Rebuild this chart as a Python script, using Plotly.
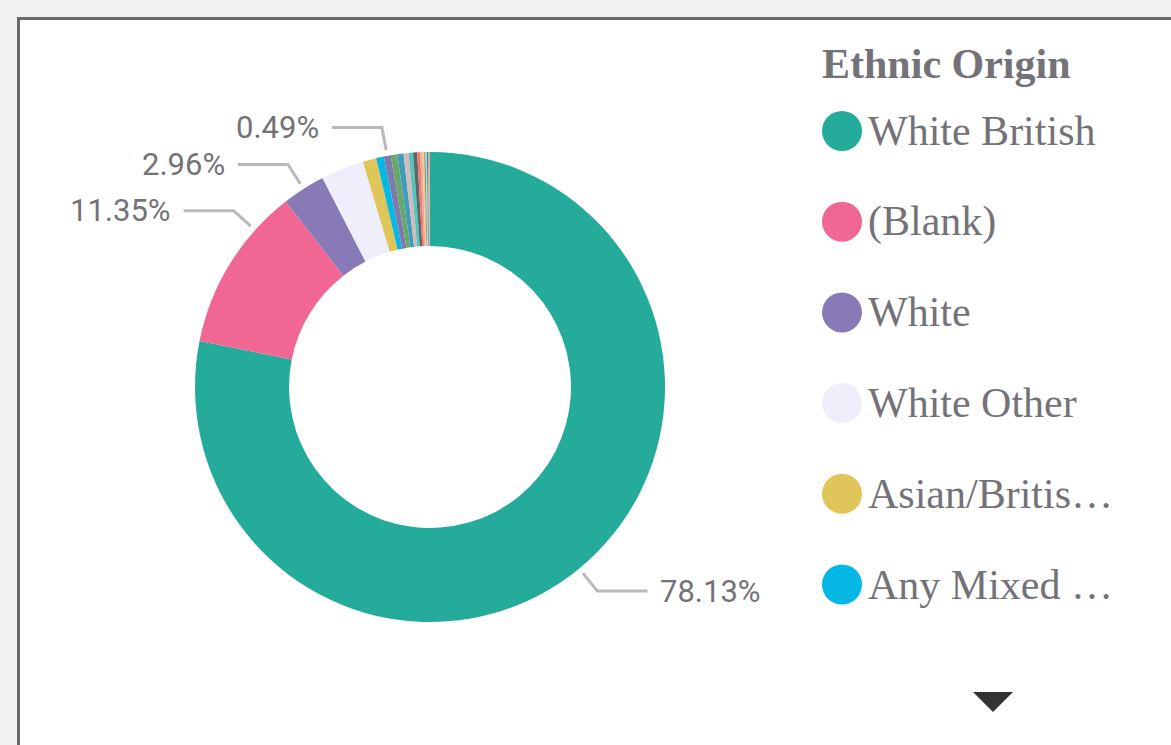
import math
import plotly.graph_objects as go

# ---------------- data ----------------
categories = [
    "White British", "(Blank)", "White", "White Other", "Asian/British Asian",
    "Any Mixed Background", "Any Other Ethnic Group", "Black/Black British",
    "Other Asian Background", "White Irish", "Chinese", "Indian", "Pakistani",
    "Bangladeshi", "Arab", "Gypsy/Traveller", "Caribbean", "African",
    "White and Black Caribbean", "Prefer Not to Say",
]
shares = [78.13, 11.35, 2.96, 2.95, 0.93, 0.52, 0.49, 0.45, 0.42, 0.35,
          0.30, 0.28, 0.20, 0.15, 0.12, 0.10, 0.09, 0.08, 0.07, 0.06]
colors = ["#24AB99", "#F06794", "#8879B7", "#EFEEFB", "#E0C558", "#03B8E5",
          "#7E7BAA", "#6AA76C", "#3C9DBD", "#D8B9BB", "#4DC8BA", "#5C6569",
          "#F3786B", "#F6A3A0", "#F2D25C", "#8795A8", "#A8DCEC", "#2E8C84",
          "#C9A2C0", "#F5A25D"]
labeled = [0, 1, 2, 6]                 # slices that carry a data label
label_anchor = [0.5, 0.75, 0.5, 0.5]   # where along the slice the leader starts
legend_title = "Ethnic Origin"
legend_visible = 6

# ---------------- layout constants ----------------
W, H = 1171, 745
CX, CY, R = 430, 387, 235
HOLE = 0.6
TEXT_GRAY = "#737278"


def px(x):
    return x / W


def py(y):
    return 1 - y / H


# Times widths (em) for legend truncation
TW = {" ": .25, "(": .333, ")": .333, "/": .278, "A": .722, "B": .667,
      "M": .889, "O": .722, "W": .944, "a": .444, "c": .444, "d": .5,
      "e": .444, "g": .5, "h": .5, "i": .278, "k": .5, "l": .278, "n": .5,
      "o": .5, "r": .333, "s": .389, "t": .278, "u": .5, "x": .5, "y": .5,
      "\u2026": 1.0}


def tw(s):
    return sum(TW.get(c, .5) for c in s)


def truncate(s, budget=5.9):
    if tw(s) <= budget:
        return s
    for n in range(len(s), 0, -1):
        if tw(s[:n]) + TW["\u2026"] <= budget:
            return s[:n] + "\u2026"
    return "\u2026"


fig = go.Figure()
fig.add_trace(go.Pie(
    labels=categories, values=shares, sort=False, direction="clockwise",
    rotation=0, hole=HOLE, textinfo="none", showlegend=False,
    marker=dict(colors=colors, line=dict(width=0)),
    domain=dict(x=[px(CX - R), px(CX + R)], y=[py(CY + R), py(CY - R)]),
))

shapes = []
annotations = []

# container panel
shapes.append(dict(type="rect", xref="paper", yref="paper", layer="below",
                   x0=px(18.5), x1=1.2, y0=py(18.5), y1=-0.2,
                   fillcolor="white", line=dict(color="#6a6a6a", width=3)))

# data labels with leader lines
total = sum(shares)
cum = [0]
for v in shares:
    cum.append(cum[-1] + v)
for idx, f in zip(labeled, label_anchor):
    frac = (cum[idx] + f * shares[idx]) / total
    th = 2 * math.pi * frac
    sx, sy = math.sin(th), -math.cos(th)
    x1, y1 = CX + (R + 6) * sx, CY + (R + 6) * sy
    x2, y2 = CX + (R + 29) * sx, CY + (R + 29) * sy
    side = 1 if sx > 0 else -1
    x3 = x2 + side * 50
    shapes.append(dict(type="path", xref="paper", yref="paper",
                       path=f"M {px(x1)} {py(y1)} L {px(x2)} {py(y2)} L {px(x3)} {py(y2)}",
                       line=dict(color="#b9b9bc", width=3)))
    annotations.append(dict(
        xref="paper", yref="paper", x=px(x3 + side * 11), y=py(y2),
        xanchor="left" if side > 0 else "right", yanchor="middle",
        text=f"{shares[idx] / total * 100:.2f}%", showarrow=False,
        font=dict(family="Roboto", size=31, color=TEXT_GRAY)))

# legend (scrollable, first entries only)
annotations.append(dict(xref="paper", yref="paper", x=px(820), y=py(64),
                        xanchor="left", yanchor="middle", showarrow=False,
                        text=f"<b>{legend_title}</b>",
                        font=dict(family="Liberation Serif", size=42, color=TEXT_GRAY)))
for i in range(legend_visible):
    yc = 131 + i * 90.7
    shapes.append(dict(type="circle", xref="paper", yref="paper",
                       x0=px(822), x1=px(862), y0=py(yc + 20), y1=py(yc - 20),
                       fillcolor=colors[i], line=dict(width=0)))
    annotations.append(dict(xref="paper", yref="paper", x=px(866), y=py(yc),
                            xanchor="left", yanchor="middle", showarrow=False,
                            text=truncate(categories[i]),
                            font=dict(family="Liberation Serif", size=42, color=TEXT_GRAY)))

# legend scroll arrow
shapes.append(dict(type="path", xref="paper", yref="paper",
                   path=f"M {px(973)} {py(692)} L {px(1013)} {py(692)} L {px(993)} {py(712)} Z",
                   fillcolor="#333333", line=dict(width=0)))

fig.update_layout(
    width=W, height=H, margin=dict(l=0, r=0, t=0, b=0),
    paper_bgcolor="#f2f2f2", plot_bgcolor="#f2f2f2",
    shapes=shapes, annotations=annotations,
)

fig.write_html("out.html", config={"displayModeBar": False},
               post_script="document.body.style.margin='0';document.body.style.overflow='hidden';")
